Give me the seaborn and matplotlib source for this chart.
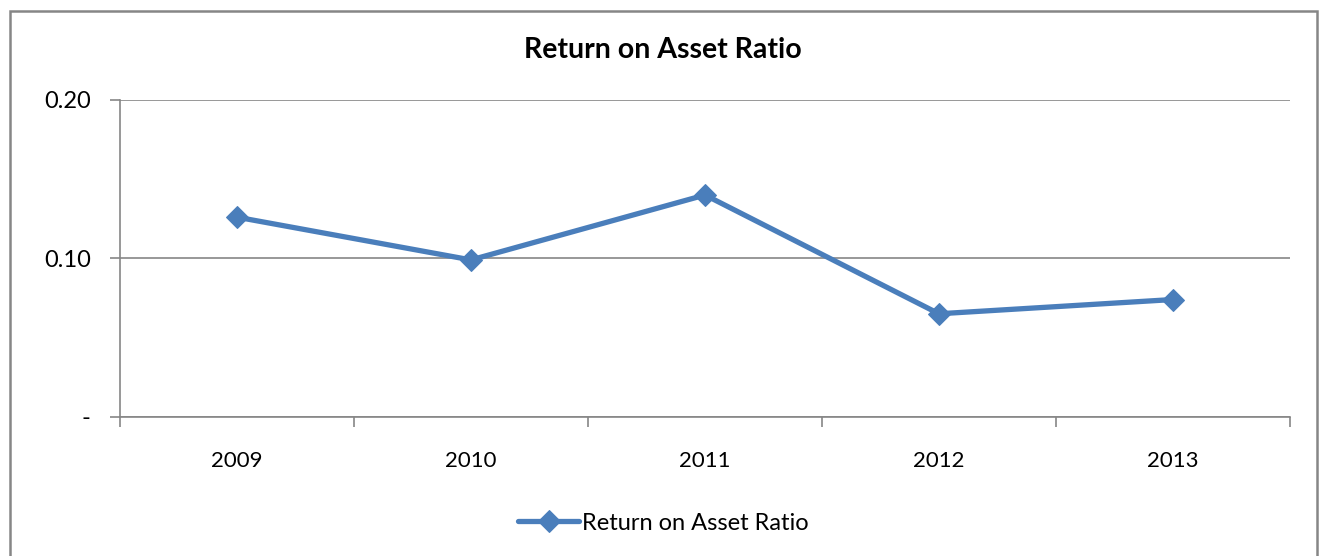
import matplotlib
matplotlib.use("Agg")
import matplotlib.pyplot as plt
import seaborn as sns
import pandas as pd
from matplotlib.patches import Rectangle

# chart values
years = ["2009", "2010", "2011", "2012", "2013"]
roa = [0.126, 0.099, 0.140, 0.065, 0.074]
series_name = "Return on Asset Ratio"

df = pd.DataFrame({"year": years, "ratio": roa, "series": series_name})

sns.set_style("white")
plt.rcParams["font.family"] = ["Lato", "DejaVu Sans"]
plt.rcParams["text.color"] = "black"
plt.rcParams["xtick.color"] = "black"
plt.rcParams["ytick.color"] = "black"

blue = "#4A7EBB"
grey = "#868686"

fig = plt.figure(figsize=(13.25, 5.56), dpi=100)
ax = fig.add_axes([120 / 1325, (556 - 416.7) / 556, 1170 / 1325, 316.7 / 556])

pos = list(range(len(years)))
df["pos"] = pos
sns.lineplot(data=df, x="pos", y="ratio", hue="series", palette=[blue],
             marker="D", markersize=11, markeredgecolor=blue, linewidth=3.8,
             ax=ax)

ax.set_xlim(-0.5, len(years) - 0.5)
ax.set_ylim(0, 0.2)

# category axis: ticks between categories, labels at centres
ax.set_xticks([p - 0.5 for p in pos] + [len(years) - 0.5])
ax.set_xticklabels([])
ax.set_xticks(pos, minor=True)
ax.set_xticklabels(years, minor=True, fontsize=16)
ax.tick_params(axis="x", which="major", direction="out", length=7, width=1.2,
               color=grey, bottom=True)
ax.tick_params(axis="x", which="minor", length=0, pad=25, labelcolor="black")

ax.set_yticks([0, 0.1, 0.2])
ax.set_yticklabels(["-", "0.10", "0.20"], fontsize=17)
ax.tick_params(axis="y", direction="out", length=7, width=1.2, color=grey,
               left=True, pad=14, labelcolor="black")

ax.yaxis.grid(True, color=grey, linewidth=1.2)
ax.xaxis.grid(False)
for side in ["top", "right"]:
    ax.spines[side].set_visible(False)
for side in ["left", "bottom"]:
    ax.spines[side].set_color(grey)
    ax.spines[side].set_linewidth(1.2)

ax.set_xlabel("")
ax.set_ylabel("")

fig.suptitle(series_name, fontsize=20.5, fontweight="bold", color="black",
             x=663 / 1325, y=1 - 50 / 556, va="center")

handles, labels = ax.get_legend_handles_labels()
leg = ax.legend(handles, labels, loc="center",
                bbox_to_anchor=(663 / 1325, 1 - 523 / 556),
                bbox_transform=fig.transFigure, frameon=False, fontsize=17,
                handlelength=2.6, handletextpad=0.1)
for t in leg.get_texts():
    t.set_color("black")

# outer chart border
fig.patches.append(Rectangle((10 / 1325, -0.05), 1307 / 1325, 1.05 - 11 / 556,
                             transform=fig.transFigure, fill=False,
                             edgecolor=grey, linewidth=1.8))

fig.savefig("out.png", dpi=100)
